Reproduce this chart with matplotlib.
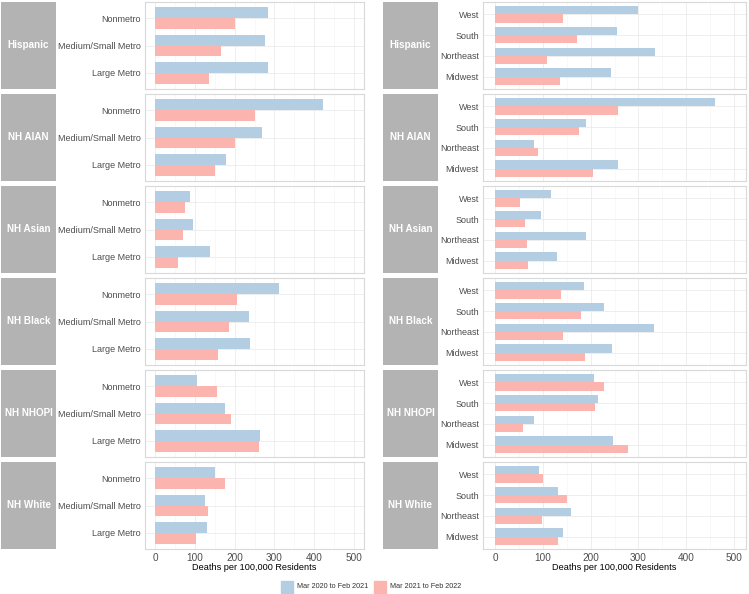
import matplotlib.pyplot as plt
from matplotlib.patches import Rectangle
import numpy as np

plt.rcParams['font.family'] = ['Liberation Sans', 'DejaVu Sans']

groups = ["Hispanic", "NH AIAN", "NH Asian", "NH Black", "NH NHOPI", "NH White"]
urban = ["Nonmetro", "Medium/Small Metro", "Large Metro"]
regions = ["West", "South", "Northeast", "Midwest"]
series_labels = ["Mar 2020 to Feb 2021", "Mar 2021 to Feb 2022"]

# deaths per 100,000 by urbanicity (rows follow `urban`)
urban_2020 = [
    [284, 276, 285],
    [423, 270, 178],
    [87, 96, 137],
    [311, 236, 238],
    [105, 175, 265],
    [150, 126, 131],
]
urban_2021 = [
    [202, 165, 135],
    [250, 202, 152],
    [75, 70, 57],
    [207, 185, 159],
    [157, 191, 261],
    [175, 132, 102],
]

# deaths per 100,000 by region (rows follow `regions`)
region_2020 = [
    [300, 255, 334, 242],
    [461, 191, 82, 258],
    [117, 97, 191, 130],
    [186, 228, 332, 244],
    [207, 216, 82, 246],
    [92, 132, 159, 143],
]
region_2021 = [
    [142, 171, 109, 135],
    [257, 175, 91, 204],
    [52, 63, 66, 70],
    [138, 179, 142, 189],
    [227, 209, 58, 279],
    [100, 151, 98, 132],
]

blue = "#B3CDE3"
pink = "#FBB4AE"
strip_col = "#B3B3B3"
W, H = 749, 594

fig = plt.figure(figsize=(W / 100, H / 100), dpi=100)


def box(x0, y0, x1, y1):
    return [x0 / W, 1 - y1 / H, (x1 - x0) / W, (y1 - y0) / H]


def panel(ax, cats, v1, v2, last):
    n = len(cats)
    pos = np.arange(n)[::-1] + 1
    ax.barh(pos + 0.2, v1, height=0.4, color=blue, zorder=3)
    ax.barh(pos - 0.2, v2, height=0.4, color=pink, zorder=3)
    ax.set_xlim(-25, 525)
    ax.set_ylim(0.4, n + 0.6)
    ax.set_yticks(pos)
    ax.set_yticklabels(cats)
    ax.set_xticks(range(0, 501, 100))
    ax.set_xticks(range(50, 500, 100), minor=True)
    ax.grid(True, which='major', color="#EBEBEB", lw=0.6, zorder=0)
    ax.grid(True, which='minor', axis='x', color="#F4F4F4", lw=0.4, zorder=0)
    ax.tick_params(axis='y', length=0, labelsize=6.5, labelcolor="#4D4D4D", pad=3)
    ax.tick_params(axis='x', length=0, labelsize=7.2, labelcolor="#4D4D4D", pad=3)
    ax.tick_params(which='minor', length=0)
    for s in ax.spines.values():
        s.set_color("#D9D9D9")
        s.set_linewidth(0.8)
    if last:
        ax.set_xlabel("Deaths per 100,000 Residents", fontsize=6.6, labelpad=0)
    else:
        ax.set_xticklabels([])


cols = [
    (1, 56, 145, 364, urban, urban_2020, urban_2021),
    (383, 438, 483, 746, regions, region_2020, region_2021),
]
for sx0, sx1, px0, px1, cats, d1, d2 in cols:
    for i, g in enumerate(groups):
        top = 2 + 92 * i
        bot = top + 87
        ax = fig.add_axes(box(px0, top, px1, bot))
        panel(ax, cats, d1[i], d2[i], i == len(groups) - 1)
        sa = fig.add_axes(box(sx0, top, sx1, bot))
        sa.set_facecolor(strip_col)
        sa.set_xticks([])
        sa.set_yticks([])
        for s in sa.spines.values():
            s.set_visible(False)
        sa.text(0.5, 0.5, g, color="white", fontweight="bold", fontsize=7.1,
                ha="center", va="center", transform=sa.transAxes)

# legend
for x, c, lab in [(281, blue, series_labels[0]), (374, pink, series_labels[1])]:
    fig.patches.append(Rectangle((x / W, 1 - 593 / H), 12 / W, 12 / H,
                                 color=c, transform=fig.transFigure))
    fig.text((x + 16) / W, 1 - 587 / H, lab, fontsize=5.2, color="#333333",
             va="center", ha="left")

fig.savefig("out.png", dpi=100)
